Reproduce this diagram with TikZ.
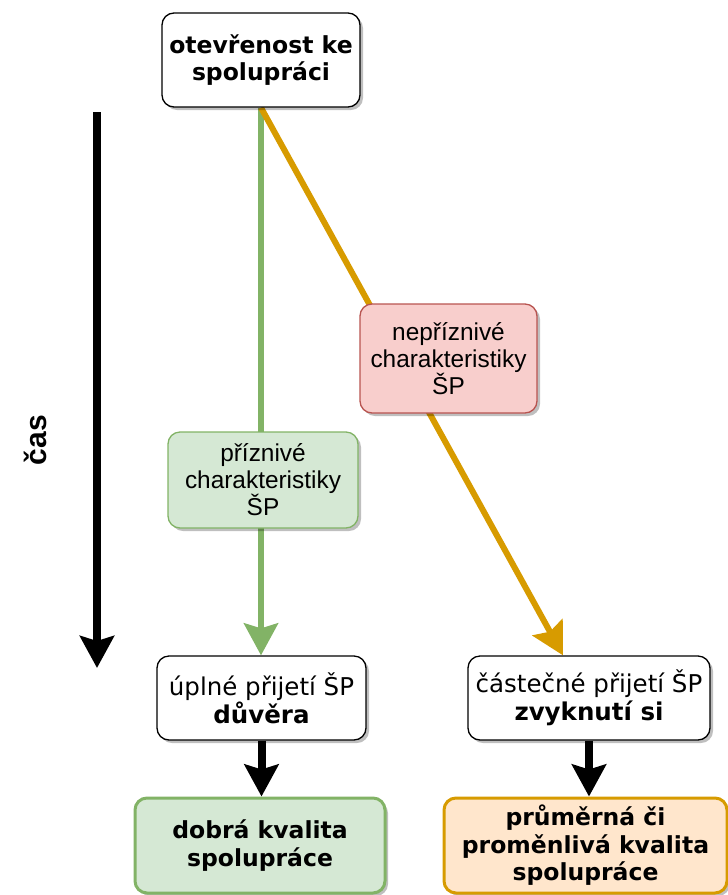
\documentclass[tikz,border=0pt]{standalone}
\usepackage{fontspec}
\setmainfont{DejaVu Sans}
\newfontfamily\arialfont{Liberation Sans}
\usetikzlibrary{arrows.meta,shadows,backgrounds}
\definecolor{greenfill}{HTML}{D5E8D4}
\definecolor{greendraw}{HTML}{82B366}
\definecolor{redfill}{HTML}{F8CECC}
\definecolor{reddraw}{HTML}{B85450}
\definecolor{orangefill}{HTML}{FFE6CC}
\definecolor{orangedraw}{HTML}{D79B00}
\tikzset{
  box/.style={draw, rounded corners=12pt, line width=1.3pt, align=center, inner sep=0pt,
    fill=white, font=\fontsize{24.5}{28}\selectfont,
    drop shadow={shadow xshift=3pt, shadow yshift=-3pt, opacity=0.25, fill=black}},
  boldbox/.style={box, font=\fontsize{23.5}{27.5}\selectfont\bfseries},
  trait/.style={box, font=\arialfont\fontsize{24.4}{27}\selectfont},
  bighead/.style={-{Stealth[length=32pt, width=34pt, inset=5pt]}},
}

\begin{document}
\begin{tikzpicture}[x=1pt, y=-1pt]
        \useasboundingbox (0, 0) rectangle (728, 895);
        \node[boldbox, minimum width=198, minimum height=94] (open) at (261, 60) {otevřenost ke\\spolupráci};
        \node[trait, fill=redfill, draw=reddraw, minimum width=177, minimum height=109] (neg) at (448.5, 358.5) {nepříznivé\\charakteristiky\\ŠP};
        \node[trait, fill=greenfill, draw=greendraw, minimum width=190, minimum height=96] (pos) at (263, 480) {příznivé\\charakteristiky\\ŠP};
        \node[box, minimum width=209, minimum height=84] (full) at (261.5, 698) {úplné přijetí ŠP\\\textbf{důvěra}};
        \node[box, minimum width=242, minimum height=84] (part) at (589, 698) {částečné přijetí ŠP\\\textbf{zvyknutí si}};
        \node[boldbox, fill=greenfill, draw=greendraw, line width=3pt, minimum width=250, minimum height=95] (good) at (260, 845.5) {dobrá kvalita\\spolupráce};
        \node[boldbox, fill=orangefill, draw=orangedraw, line width=3pt, minimum width=283, minimum height=95] (avg) at (585.5, 845.5) {průměrná či\\proměnlivá kvalita\\spolupráce};
        % time axis
        \coordinate (t0) at (97, 112);
        \coordinate (t1) at (97, 668);
        \draw[bighead, line width=8pt] (t0) -- (t1);
        \node[rotate=90, font=\arialfont\fontsize{30}{32}\selectfont\bfseries] (time) at (35, 440) {čas};
        \begin{scope}[on background layer]
        \draw[bighead, line width=6pt, greendraw] (open.south) -- (open.south |- full.north);
        \draw[bighead, line width=6pt, orangedraw] (open.south) -- ([xshift=-26pt]part.north);
        \end{scope}
        \foreach \a/\b in {full/good, part/avg}
        \draw[bighead, line width=8pt] (\a.south) -- (\a.south |- \b.north);
\end{tikzpicture}
\end{document}
